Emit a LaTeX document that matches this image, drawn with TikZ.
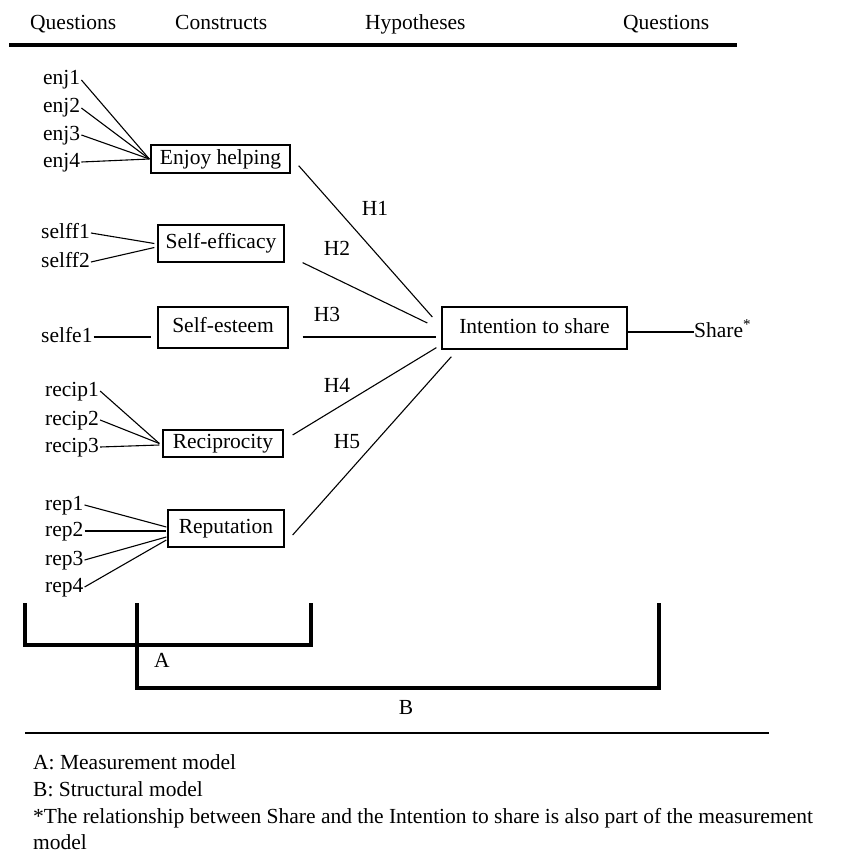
\documentclass[tikz,border=0pt]{standalone}
\usepackage{fontspec}
\setmainfont{Liberation Serif}
\begin{document}
\begin{tikzpicture}[x=1pt,y=-1pt,
  every node/.style={font=\fontsize{21.5}{26.5}\selectfont},
  item/.style={anchor=west,inner sep=1pt,text height=14pt,text depth=4pt},
  construct/.style={draw,line width=1.3pt,inner sep=0pt,text height=14pt,text depth=4pt},
  hlabel/.style={inner sep=0pt,text height=14pt,text depth=4pt},
  heading/.style={anchor=base west,inner sep=0pt},
  note/.style={anchor=base west,inner sep=0pt},
  link/.style={line width=1.1pt},
  rule/.style={line width=4pt},
  bracket/.style={line width=4.5pt}]
\useasboundingbox (0,0) rectangle (842,856);

% column headings
\node[heading] (hq1) at (30,30) {Questions};
\node[heading] (hc)  at (175,30) {Constructs};
\node[heading] (hh)  at (365,30) {Hypotheses};
\node[heading] (hq2) at (623,30) {Questions};
\coordinate (ruleL) at (9,45);
\coordinate (ruleR) at (737,45);
\draw[rule] (ruleL) -- (ruleR);

% constructs
\node[construct,minimum width=139pt,minimum height=28pt] (enjoy)   at (220.5,159)   {Enjoy helping};
\node[construct,minimum width=126pt,minimum height=37pt] (selfeff) at (221,243.5)   {Self-efficacy};
\node[construct,minimum width=130pt,minimum height=41pt] (selfest) at (223,327.5)   {Self-esteem};
\node[construct,minimum width=120pt,minimum height=27pt] (recip)   at (223,443.5)   {Reciprocity};
\node[construct,minimum width=116pt,minimum height=37pt] (reput)   at (226,528.5)   {Reputation};
\node[construct,minimum width=185pt,minimum height=42pt] (intent)  at (534.5,328)   {Intention to share};

% question items
\node[item] (enj1) at (42,80)  {enj1};
\node[item] (enj2) at (42,108) {enj2};
\node[item] (enj3) at (42,135) {enj3};
\node[item] (enj4) at (42,162) {enj4};
\node[item] (selff1) at (40,233) {selff1};
\node[item] (selff2) at (40,262) {selff2};
\node[item] (selfe1) at (40,337) {selfe1};
\node[item] (recip1) at (44,391) {recip1};
\node[item] (recip2) at (44,420) {recip2};
\node[item] (recip3) at (44,447) {recip3};
\node[item] (rep1) at (44,505) {rep1};
\node[item] (rep2) at (44,531) {rep2};
\node[item] (rep3) at (44,560) {rep3};
\node[item] (rep4) at (44,587) {rep4};
\node[item,inner sep=0pt] (share) at (694,332) {Share\textsuperscript{*}};

% measurement links
\foreach \q in {enj1,enj2,enj3,enj4}
  \draw[link] (\q.east) -- ([xshift=-1pt]enjoy.west);
\draw[link] (selff1.east) -- ([xshift=-3pt]selfeff.west);
\draw[link] (selff2.east) -- ([shift={(-3,4)}]selfeff.west);
\path (selfest.west) ++(-6,0) coordinate (seend);
\draw[link] (selfe1.east) -- (seend |- selfe1.east);
\draw[link] (recip1.east) -- ([xshift=-3pt]recip.west);
\draw[link] (recip2.east) -- ([xshift=-3pt]recip.west);
\draw[link] (recip3.east) -- ([shift={(-3,1.5)}]recip.west);
\draw[link] (rep1.east) -- ([shift={(-1,-1.5)}]reput.west);
\draw[link] (rep2.east) -- ([shift={(-1,2.5)}]reput.west);
\draw[link] (rep3.east) -- ([shift={(-1,8.5)}]reput.west);
\draw[link] (rep4.east) -- ([shift={(-1,11.5)}]reput.west);
\draw[link] (intent.east |- share.west) -- (share.west);

% structural links
\draw[link] ([shift={(8,-8)}]enjoy.south east) -- ([shift={(-9,-11)}]intent.west);
\draw[link] ([xshift=18pt]selfeff.south east) -- ([shift={(-14,-5)}]intent.west);
\draw[link] ([shift={(14,9.5)}]selfest.east) -- ([shift={(-5,9)}]intent.west);
\draw[link] ([shift={(9,-8.5)}]recip.east) -- ([shift={(-5,-2)}]intent.south west);
\draw[link] ([shift={(8,6.5)}]reput.east) -- ([shift={(10,7)}]intent.south west);

\node[hlabel] (h1) at (375,210) {H1};
\node[hlabel] (h2) at (337,250) {H2};
\node[hlabel] (h3) at (327,316) {H3};
\node[hlabel] (h4) at (337,387) {H4};
\node[hlabel] (h5) at (347,443) {H5};

% model brackets
\draw[bracket] (25,603) -- (25,645) -- (311,645) -- (311,603);
\draw[bracket] (137,603) -- (137,688) -- (659,688) -- (659,603);
\node[hlabel] (la) at (162,662) {A};
\node[hlabel] (lb) at (406,709) {B};

% legend
\coordinate (footL) at (25,733);
\coordinate (footR) at (769,733);
\draw[line width=1.6pt] (footL) -- (footR);
\node[note] (n1) at (33,769) {A: Measurement model};
\node[note] (n2) at (33,796) {B: Structural model};
\node[note] (n3) at (33,823) {*The relationship between Share and the Intention to share is also part of the measurement};
\node[note] (n4) at (33,849) {model};
\end{tikzpicture}
\end{document}
